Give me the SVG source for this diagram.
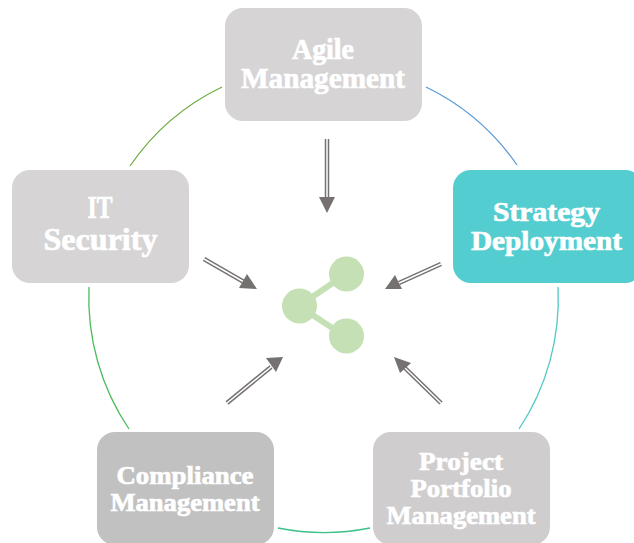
<svg xmlns="http://www.w3.org/2000/svg" width="634" height="543" viewBox="0 0 634 543">
<style>
.t{font-family:"Liberation Serif",serif;font-weight:700;fill:#fff;text-anchor:middle;stroke:#fff;stroke-width:.7}
.a{fill:none;stroke-width:1.3}
.s{fill:none;stroke:#767171;stroke-width:4.5}
.g{fill:none;stroke:#fff;stroke-width:1.5}
.h{fill:#767171}
</style>
<rect width="634" height="543" fill="#fff"/>
<g id="connectors">
<path class="a" stroke="#70ad47" d="M130 166A235 235 0 0 1 222 87"/>
<path class="a" stroke="#5b9bd5" d="M426 87A235 235 0 0 1 517 165"/>
<path class="a" stroke="#4fc9c4" d="M558 287A235 235 0 0 1 519 429"/>
<path class="a" stroke="#3cc08a" d="M370 528A235 235 0 0 1 278 528"/>
<path class="a" stroke="#4cbb5c" d="M129 429A235 235 0 0 1 89 287"/>
<path class="s" d="M327 139V198"/><path class="g" d="M327 139V198"/><path class="h" d="M319 197H335L327 213Z"/>
<path class="s" d="M204 259L244 282"/><path class="g" d="M204 259L244 282"/><path class="h" d="M247 274L257 289L239 288Z"/>
<path class="s" d="M441 264L399 283"/><path class="g" d="M441 264L399 283"/><path class="h" d="M395 275L385 289L402 289Z"/>
<path class="s" d="M227 403L271 367"/><path class="g" d="M227 403L271 367"/><path class="h" d="M266 358L283 357L276 372Z"/>
<path class="s" d="M441 403L405 368"/><path class="g" d="M441 403L405 368"/><path class="h" d="M394 357L411 363L400 373Z"/>
</g>
<g id="agile"><rect x="225" y="8" width="197" height="113" rx="18" fill="#d6d4d5"/><text class="t" x="323" y="59" font-size="29" textLength="62" lengthAdjust="spacingAndGlyphs">Agile</text><text class="t" x="323" y="88" font-size="29" textLength="164" lengthAdjust="spacingAndGlyphs">Management</text></g>
<g id="strategy"><rect x="453" y="170" width="190" height="113" rx="18" fill="#53cdd0"/><text class="t" x="546.500" y="221" font-size="28" textLength="107" lengthAdjust="spacingAndGlyphs">Strategy</text><text class="t" x="546.500" y="250" font-size="28" textLength="151" lengthAdjust="spacingAndGlyphs">Deployment</text></g>
<g id="security"><rect x="12" y="170" width="177" height="113" rx="18" fill="#d6d4d5"/><text class="t" x="100" y="218" font-size="31" textLength="25" lengthAdjust="spacingAndGlyphs">IT</text><text class="t" x="100.500" y="250" font-size="31" textLength="114" lengthAdjust="spacingAndGlyphs">Security</text></g>
<g id="compliance"><rect x="97" y="432" width="177" height="113" rx="18" fill="#c2c1c1"/><text class="t" x="185" y="484" font-size="26" textLength="137" lengthAdjust="spacingAndGlyphs">Compliance</text><text class="t" x="185" y="511" font-size="26" textLength="149" lengthAdjust="spacingAndGlyphs">Management</text></g>
<g id="portfolio"><rect x="373" y="432" width="177" height="113" rx="18" fill="#cfcdce"/><text class="t" x="461" y="470" font-size="26" textLength="84" lengthAdjust="spacingAndGlyphs">Project</text><text class="t" x="461" y="497" font-size="26" textLength="101" lengthAdjust="spacingAndGlyphs">Portfolio</text><text class="t" x="461" y="524" font-size="26" textLength="149" lengthAdjust="spacingAndGlyphs">Management</text></g>
<g id="share"><path d="M346 274L299 306L346 337" fill="none" stroke="#c5e0b4" stroke-width="6"/><circle cx="346.500" cy="274" r="17.500" fill="#c5e0b4"/><circle cx="299.500" cy="306" r="17.500" fill="#c5e0b4"/><circle cx="346.500" cy="336" r="17.500" fill="#c5e0b4"/></g>
</svg>
